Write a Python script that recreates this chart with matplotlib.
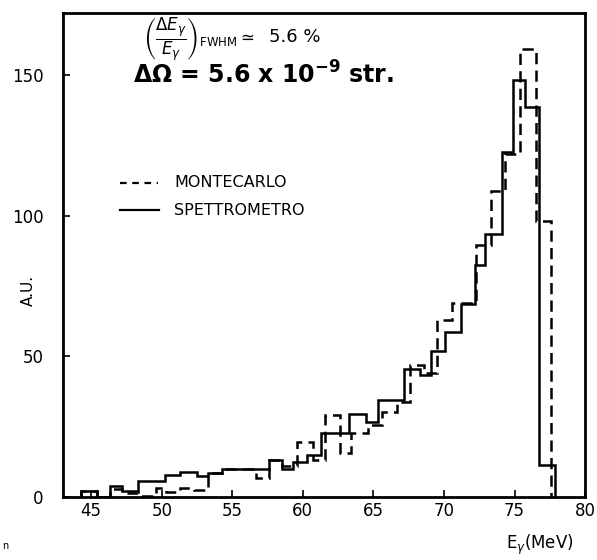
import matplotlib
matplotlib.use("Agg")
from matplotlib import pyplot as plt

# bin edges (MeV) and counts
spett_edges = [44.3, 45.4, 46.3, 47.2, 48.3, 50.2, 51.3, 52.5, 53.3, 54.3, 57.6,
               58.5, 59.3, 60.3, 61.3, 63.3, 64.5, 65.3, 67.2, 68.3, 69.1, 70.1,
               71.2, 72.2, 72.9, 74.1, 74.9, 75.75, 76.75, 77.9]
spett_vals = [2, 0, 3.9, 2.3, 5.7, 7.8, 9.0, 7.5, 8.6, 9.8,
              13.2, 9.8, 12.6, 15, 22.8, 29.4, 26.8, 34.3, 45.4, 43.4,
              52, 58.7, 68.5, 82.3, 93.4, 122.5, 148.3, 138.5, 11.2]

monte_edges = [44.3, 45.4, 46.3, 47.2, 48.3, 49.6, 50.3, 51.3, 52.3, 53.3, 54.3,
               56.7, 57.6, 58.5, 59.6, 60.7, 61.6, 62.6, 63.4, 64.6, 65.6, 66.7,
               67.6, 68.6, 69.5, 70.6, 72.3, 73.3, 74.35, 75.4, 76.5, 77.6]
monte_vals = [2, 0, 3.0, 1.5, 0.5, 3.2, 1.9, 3.2, 2.5, 8.6, 9.8,
              6.6, 13.2, 11, 19.5, 13, 29.2, 15.5, 22.6, 25.6, 30.3,
              33.9, 47, 44, 63, 69, 89.5, 108.6, 122, 159, 98]

xticks = [45, 50, 55, 60, 65, 70, 75, 80]
yticks = [0, 50, 100, 150]

plt.rcParams['font.family'] = ['DejaVu Sans']

fig = plt.figure(figsize=(5.97, 5.6), dpi=100)
ax = fig.add_axes([0.1055, 0.1125, 0.8745, 0.8645])

ax.stairs(spett_vals, spett_edges, color='black', lw=1.8)
ax.stairs(monte_vals, monte_edges, color='black', lw=1.8, ls=(0, (4.5, 2.5)))

ax.set_xlim(43.0, 79.85)
ax.set_ylim(0, 172)
ax.set_xticks(xticks)
ax.set_yticks(yticks)
ax.tick_params(direction='in', length=5, width=1.2, labelsize=12,
               top=False, right=False)
ax.tick_params(axis='y', pad=14)
for s in ax.spines.values():
    s.set_linewidth(2)

fig.text(0.047, 0.482, 'A.U.', fontsize=11, rotation=90, ha='center', va='center')
fig.text(0.905, 0.027, r'E$_\gamma$(MeV)', fontsize=12, ha='center', va='center')
fig.text(0.003, 0.02, 'n', fontsize=7)

# annotations
ax.text(0.153, 0.945, r'$\left(\dfrac{\Delta E_\gamma}{E_\gamma}\right)_{\rm FWHM}\simeq$',
        transform=ax.transAxes, fontsize=12, va='center', ha='left')
ax.text(0.395, 0.95, '5.6 %', transform=ax.transAxes, fontsize=13,
        va='center', ha='left')
ax.text(0.385, 0.872, r'$\mathbf{\Delta\Omega}$ = 5.6 x 10$^{\mathbf{-9}}$ str.',
        transform=ax.transAxes, fontsize=17, fontweight='bold', va='center', ha='center')

# hand-drawn legend
ax.plot([47.05, 49.7], [111.7, 111.7], color='black', lw=1.6, ls=(0, (3, 2.5)))
ax.plot([47.05, 49.8], [101.8, 101.8], color='black', lw=1.6)
ax.text(50.9, 111.7, 'MONTECARLO', fontsize=11.5, va='center')
ax.text(50.9, 101.8, 'SPETTROMETRO', fontsize=11.5, va='center')

fig.savefig('out.png', dpi=100)
